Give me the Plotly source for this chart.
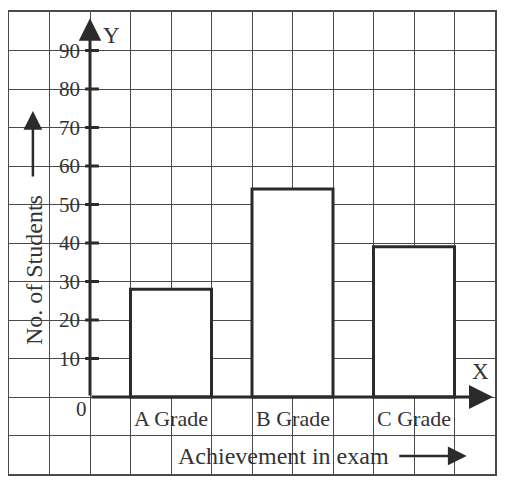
import plotly.graph_objects as go

# data
grades = ["A Grade", "B Grade", "C Grade"]
students = [28, 54, 39]
y_ticks = [10, 20, 30, 40, 50, 60, 70, 80, 90]
y_tick_labels = ["10", "20", "30", "40", "50", "60", "70", "80", "90"]

# grid units: one square = 1 on x, 10 on y; y-axis sits at x=2
bar_x = [4, 7, 10]
axis_x = 2
ink = "#2b2b2b"
grid = "#4a4a4a"
font = dict(family="Liberation Serif", size=20, color="#333333")

fig = go.Figure()
fig.add_trace(go.Bar(
    x=bar_x, y=students, width=2,
    marker=dict(color="white", line=dict(color=ink, width=3)),
    hoverinfo="skip",
))

# axis lines with arrows
fig.add_annotation(x=11.95, y=0, ax=axis_x, ay=0, xref="x", yref="y", axref="x", ayref="y",
                   showarrow=True, arrowhead=2, arrowsize=1.6, arrowwidth=3, arrowcolor=ink, text="")
fig.add_annotation(x=axis_x, y=98.4, ax=axis_x, ay=0, xref="x", yref="y", axref="x", ayref="y",
                   showarrow=True, arrowhead=2, arrowsize=1.5, arrowwidth=3, arrowcolor=ink, text="")

# y ticks and labels
for v, lab in zip(y_ticks, y_tick_labels):
    fig.add_shape(type="line", x0=1.88, x1=2.22, y0=v, y1=v, line=dict(color=ink, width=3))
    fig.add_annotation(x=1.8, y=v, text=lab, showarrow=False, xanchor="right",
                       font=dict(font, size=21))

# category labels
for xc, g in zip(bar_x, grades):
    fig.add_annotation(x=xc, y=-5.7, text=g, showarrow=False, font=dict(font, size=22))

fig.add_annotation(x=1.78, y=-3.1, text="0", showarrow=False, font=dict(font, size=21))
fig.add_annotation(x=2.54, y=94, text="Y", showarrow=False, font=dict(font, size=23))
fig.add_annotation(x=11.63, y=6.5, text="X", showarrow=False, font=dict(font, size=23))

# titles with arrows
fig.add_annotation(x=6.77, y=-15.3, text="Achievement in exam", showarrow=False,
                   font=dict(font, size=24))
fig.add_annotation(x=11.3, y=-15.3, ax=9.6, ay=-15.3, xref="x", yref="y", axref="x", ayref="y",
                   showarrow=True, arrowhead=2, arrowsize=1.5, arrowwidth=2.5, arrowcolor=ink, text="")
fig.add_annotation(x=0.62, y=33, text="No. of Students", textangle=-90, showarrow=False,
                   font=dict(font, size=24))
fig.add_annotation(x=0.59, y=74.3, ax=0.59, ay=56.9, xref="x", yref="y", axref="x", ayref="y",
                   showarrow=True, arrowhead=2, arrowsize=1.5, arrowwidth=2.5, arrowcolor=ink, text="")

fig.update_layout(
    width=507, height=490,
    margin=dict(l=1, r=20, t=4, b=24),
    plot_bgcolor="white", paper_bgcolor="white",
    showlegend=False,
    xaxis=dict(range=[0, 12], dtick=1, tick0=0, showgrid=True, gridcolor=grid, gridwidth=1.4,
               showticklabels=False, zeroline=False, showline=True, mirror=True,
               linecolor=grid, linewidth=1.6, fixedrange=True),
    yaxis=dict(range=[-20, 100], dtick=10, tick0=0, showgrid=True, gridcolor=grid, gridwidth=1.4,
               showticklabels=False, zeroline=False, showline=True, mirror=True,
               linecolor=grid, linewidth=1.6, fixedrange=True),
)

fig.write_html("out.html")
